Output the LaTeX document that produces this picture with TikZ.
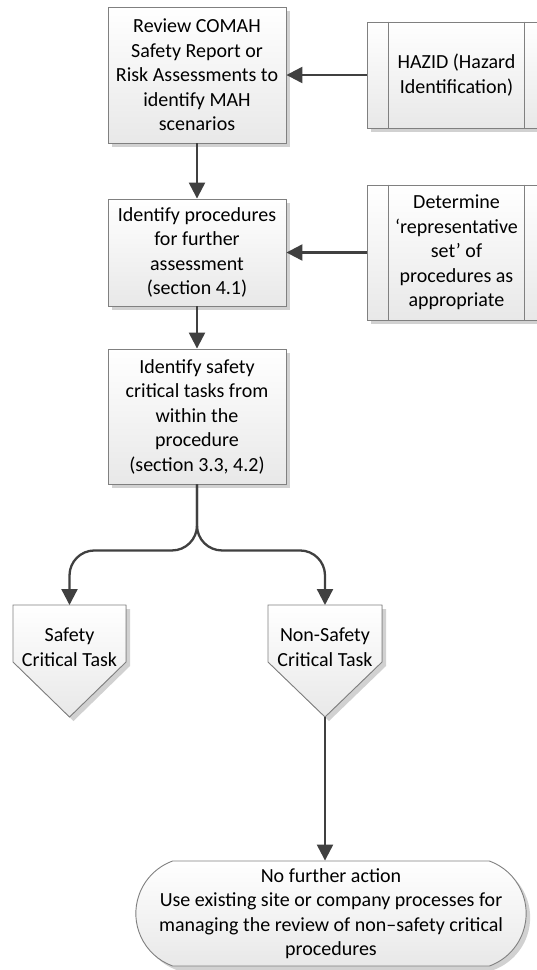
\documentclass[tikz,border=0pt]{standalone}
\usepackage{fontspec}
\setmainfont{Carlito}
\usetikzlibrary{shapes.misc}
\usetikzlibrary{arrows.meta,shadows,calc}
\usepackage{xcolor}

\tikzset{
  shade/.style={draw=black!50,line width=.9pt,top color=white,bottom color=black!9,
    drop shadow={shadow xshift=4pt,shadow yshift=-4pt,fill=black!18,opacity=1}},
  txt/.style={align=center,font=\fontsize{20}{24.5}\selectfont,inner sep=0pt},
  procbox/.style={shade,txt,minimum width=178pt},
  predef/.style={shade,txt,minimum width=179pt},
  flow/.style={draw=black!75,line width=2.3pt,-{Triangle[width=16pt,length=16pt]}},
}

\begin{document}
\begin{tikzpicture}[x=1pt,y=-1pt]
\clip (0,0) rectangle (537,970);
\fill[white] (0,0) rectangle (537,970);

% main column
\node[procbox,minimum height=136pt] (review) at (197,75)
  {Review COMAH\\Safety Report or\\Risk Assessments to\\identify MAH\\scenarios};
\node[procbox,minimum height=107pt] (ident) at (197,252.5)
  {Identify procedures\\for further\\assessment\\(section 4.1)};
\node[procbox,minimum height=135pt] (tasks) at (197,416.5)
  {Identify safety\\critical tasks from\\within the\\procedure\\(section 3.3, 4.2)};

% side boxes
\node[predef,minimum height=106pt] (hazid) at (456.5,75) {HAZID (Hazard\\Identification)};
\node[predef,minimum height=135pt] (repset) at (456.5,252.5)
  {Determine\\‘representative\\set’ of\\procedures as\\appropriate};
\foreach \b in {hazid,repset} {
  \draw[black!50,line width=.9pt] ($(\b.north west)+(22,0)$) -- ($(\b.south west)+(22,0)$);
  \draw[black!50,line width=.9pt] ($(\b.north east)+(-22,0)$) -- ($(\b.south east)+(-22,0)$);
}

% off page shapes
\filldraw[shade] (13,605) -- (126,605) -- (126,662) -- (69.5,717) -- (13,662) -- cycle;
\filldraw[shade] (268,605) -- (382,605) -- (382,662) -- (325,717) -- (268,662) -- cycle;
\coordinate (sctop) at (69.5,605);
\coordinate (nsctop) at (325,605);
\coordinate (nsctip) at (325,717);
\node[txt] (sct) at (69.5,647) {Safety\\Critical Task};
\node[txt] (nsct) at (325,647) {Non-Safety\\Critical Task};

% terminator
\node[shade,txt,rounded rectangle,rounded rectangle arc length=140,
  minimum width=389pt,minimum height=105pt] (nfa) at (331,913.5)
  {No further action\\Use existing site or company processes for\\managing the review of non--safety critical\\procedures};

% connectors
\draw[flow] (hazid.west) -- (review.east);
\draw[flow] (repset.west) -- (ident.east);
\draw[flow] (review.south) -- (ident.north);
\draw[flow] (ident.south) -- (tasks.north);
\draw[flow,rounded corners=25pt] (tasks.south) -- ++(0,66) -| (sctop);
\draw[flow,rounded corners=25pt] (tasks.south) -- ++(0,66) -| (nsctop);
\draw[flow] (nsctip) -- (nsctip |- nfa.north);
\end{tikzpicture}
\end{document}
